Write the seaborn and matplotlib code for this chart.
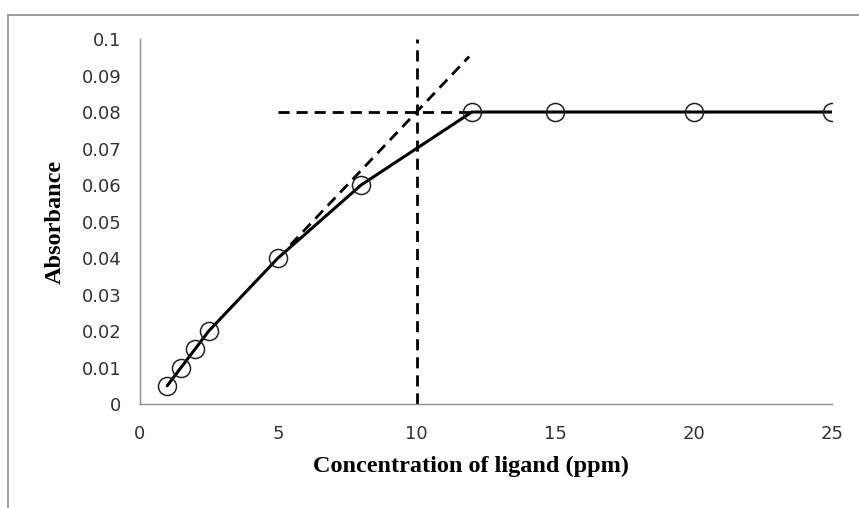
import matplotlib
matplotlib.use("Agg")
import matplotlib.pyplot as plt
import seaborn as sns
import pandas as pd
from matplotlib.lines import Line2D

# Data
conc = [1, 1.5, 2, 2.5, 5, 8, 12, 15, 20, 25]
absorbance = [0.005, 0.01, 0.015, 0.02, 0.04, 0.06, 0.08, 0.08, 0.08, 0.08]

# Guide lines (dashed)
vline_x = [10, 10]
vline_y = [0, 0.1]
hline_x = [5, 12]
hline_y = [0.08, 0.08]
diag_x = [5.45, 11.9]
diag_y = [0.0436, 0.0952]

xticks = [0, 5, 10, 15, 20, 25]
yticks = [0, 0.01, 0.02, 0.03, 0.04, 0.05, 0.06, 0.07, 0.08, 0.09, 0.1]
yticklabels = ["0", "0.01", "0.02", "0.03", "0.04", "0.05", "0.06", "0.07", "0.08", "0.09", "0.1"]

sns.set_style("white")
plt.rcParams['font.family'] = ['DejaVu Sans']

fig = plt.figure(figsize=(8.59, 5.08), dpi=100)
ax = fig.add_axes([0.1624, 0.2047, 0.9686 - 0.1624, 0.9232 - 0.2047])

df = pd.DataFrame({"conc": conc, "abs": absorbance})
dash = (4, 2.5)
ax.plot(vline_x, vline_y, color="black", lw=2, dashes=dash, zorder=2)
ax.plot(hline_x, hline_y, color="black", lw=2, dashes=dash, zorder=2)
ax.plot(diag_x, diag_y, color="black", lw=2, dashes=dash, zorder=2)

sns.lineplot(data=df, x="conc", y="abs", ax=ax, color="black", lw=2.2,
             marker="o", markersize=13, markerfacecolor="none",
             markeredgecolor="#222222", markeredgewidth=1.1, zorder=3)

ax.set_xlim(0, 25)
ax.set_ylim(0, 0.1)
ax.set_xticks(xticks)
ax.set_xticklabels([str(t) for t in xticks])
ax.set_yticks(yticks)
ax.set_yticklabels(yticklabels)

for s in ["top", "right"]:
    ax.spines[s].set_visible(False)
for s in ["left", "bottom"]:
    ax.spines[s].set_color("#8c8c8c")
    ax.spines[s].set_linewidth(1.0)

ax.tick_params(axis="both", which="major", direction="out", length=6, width=1.0,
               color="#8c8c8c", labelsize=13, labelcolor="#333333")
ax.tick_params(axis="x", pad=9)
ax.tick_params(axis="y", pad=7)

ax.set_xlabel("")
ax.set_ylabel("")
fig.text(471 / 859, 1 - 466 / 508, "Concentration of ligand (ppm)",
         family="Liberation Serif", fontweight="bold", fontsize=17.5,
         ha="center", va="center", color="black")
fig.text(55 / 859, 1 - 222 / 508, "Absorbance",
         family="Liberation Serif", fontweight="bold", fontsize=17.5,
         rotation=90, ha="center", va="center", color="black")

# figure border (top and left visible)
fig.add_artist(Line2D([8 / 859, 1.0], [1 - 15 / 508, 1 - 15 / 508],
                      transform=fig.transFigure, color="#8c8c8c", lw=1.2))
fig.add_artist(Line2D([8 / 859, 8 / 859], [0, 1 - 15 / 508],
                      transform=fig.transFigure, color="#8c8c8c", lw=1.2))

fig.savefig("out.png", dpi=100)
